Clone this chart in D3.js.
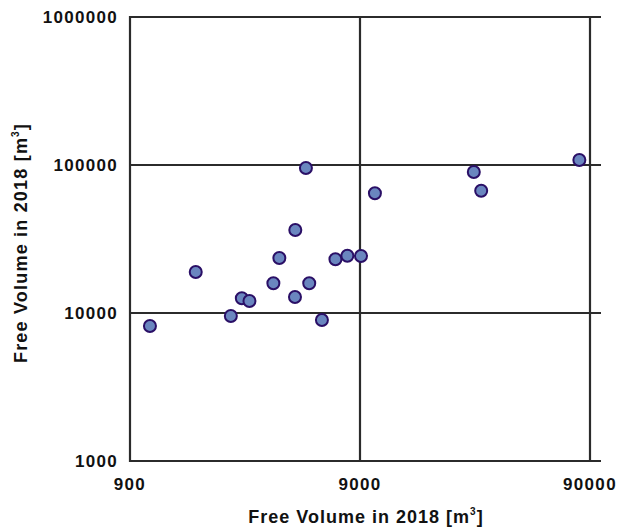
<!DOCTYPE html>
<html>
<head>
<meta charset="utf-8">
<script src="https://cdn.jsdelivr.net/npm/d3@7"></script>
<style>
  body { margin: 0; background: #fff; }
  text { font-family: "Liberation Sans", Arial, sans-serif; font-weight: bold; fill: #111; }
</style>
</head>
<body>
<div id="chart"></div>
<script>
// data (free volume, m3)
const xValues = [1099, 1738, 2470, 2757, 2976, 3781, 4014, 4709, 4694, 5414,
                 5238, 6148, 7038, 7931, 9090, 10450, 28120, 30280, 80900];
const yValues = [8170, 18930, 9550, 12570, 12050, 15870, 23530, 36390, 12830, 15870,
                 95500, 8970, 23060, 24390, 24270, 64400, 89700, 67000, 108100];
const xTicks = [900, 9000, 90000];
const yTicks = [1000, 10000, 100000, 1000000];

const width = 622, height = 528;
const plotLeft = 130, plotRight = 590, plotTop = 17, plotBottom = 461;

const svg = d3.select("#chart").append("svg")
    .attr("width", width)
    .attr("height", height);

const x = d3.scaleLog().domain([900, 90000]).range([plotLeft, plotRight]);
const y = d3.scaleLog().domain([1000, 1000000]).range([plotBottom, plotTop]);

const points = xValues.map((v, i) => ({ x: v, y: yValues[i] }));

// grid lines
const grid = svg.append("g").attr("stroke", "#2b2b2b").attr("stroke-width", 2.2);
grid.selectAll(".hl").data(yTicks).enter().append("line")
    .attr("x1", plotLeft).attr("x2", 601)
    .attr("y1", d => y(d)).attr("y2", d => y(d));
grid.append("line").attr("x1", plotLeft).attr("x2", plotLeft).attr("y1", plotTop - 1).attr("y2", plotBottom + 1);
grid.selectAll(".vl").data(xTicks.slice(1)).enter().append("line")
    .attr("x1", d => x(d)).attr("x2", d => x(d))
    .attr("y1", plotTop - 1).attr("y2", plotBottom);

// tick labels
svg.selectAll(".yt").data(yTicks).enter().append("text")
    .attr("x", 118).attr("y", d => y(d) + 6)
    .attr("text-anchor", "end")
    .style("font-size", "17px")
    .style("letter-spacing", "1.3px")
    .text(d => d);

svg.selectAll(".xt").data(xTicks).enter().append("text")
    .attr("x", d => x(d)).attr("y", 490)
    .attr("text-anchor", "middle")
    .style("font-size", "17px")
    .style("letter-spacing", "1.3px")
    .text(d => d);

// axis titles
function axisTitle(sel) {
    sel.append("tspan").text("Free Volume in 2018 [m");
    sel.append("tspan").attr("dy", -8).style("font-size", "10px").text("3");
    sel.append("tspan").attr("dy", 8).text("]");
}

svg.append("text")
    .attr("x", 366).attr("y", 523)
    .attr("text-anchor", "middle")
    .style("font-size", "18px")
    .style("letter-spacing", "1px")
    .call(axisTitle);

svg.append("text")
    .attr("transform", "translate(27,243) rotate(-90)")
    .attr("text-anchor", "middle")
    .style("font-size", "18px")
    .style("letter-spacing", "1.2px")
    .call(axisTitle);

// points
svg.append("g").selectAll("circle").data(points).enter().append("circle")
    .attr("cx", d => x(d.x))
    .attr("cy", d => y(d.y))
    .attr("r", 6)
    .attr("fill", "#6a86bf")
    .attr("stroke", "#2a0f66")
    .attr("stroke-width", 2);
</script>
</body>
</html>
